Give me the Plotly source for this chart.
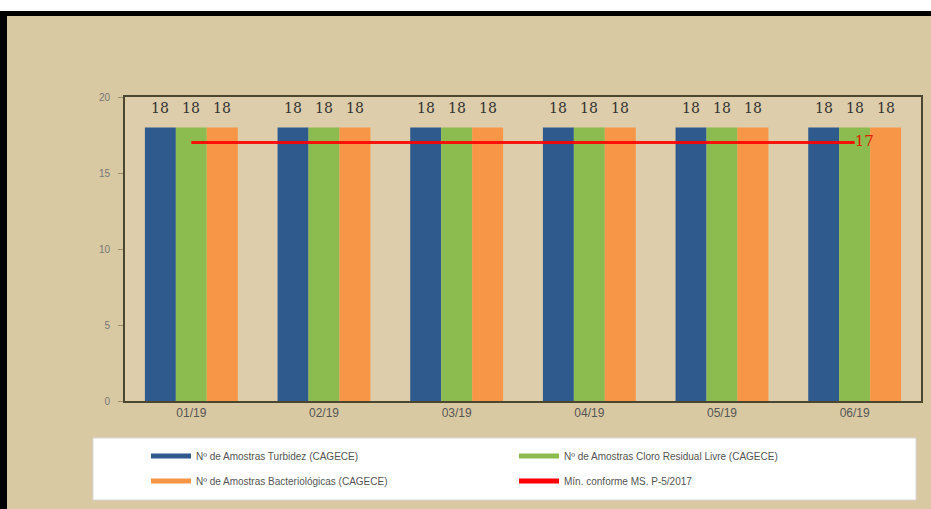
import plotly.graph_objects as go

W, H = 931, 509
categories = ["01/19", "02/19", "03/19", "04/19", "05/19", "06/19"]
turbidez = [18, 18, 18, 18, 18, 18]
cloro = [18, 18, 18, 18, 18, 18]
bacterio = [18, 18, 18, 18, 18, 18]
minimo = [17, 17, 17, 17, 17, 17]

names = ["Nº de Amostras Turbidez (CAGECE)",
         "Nº de Amostras Cloro Residual Livre (CAGECE)",
         "Nº de Amostras Bacteriológicas (CAGECE)",
         "Mín. conforme MS. P-5/2017"]
colors = ["#2f5a8e", "#8cbb4f", "#f79646", "#ff0000"]
legend_ids = ["legend", "legend", "legend2", "legend2"]

L, R, T, B = 125, 921, 97, 401  # plot area in pixels
BARGAP = 0.3

fig = go.Figure()
series = [turbidez, cloro, bacterio]
bar_w = (R - L) / len(categories) * (1 - BARGAP) / len(series)
annotations = []
for i, (vals, c) in enumerate(zip(series, colors[:3])):
    fig.add_bar(x=categories, y=vals, marker_color=c, marker_line_width=0,
                showlegend=False)
    for cat, v in zip(categories, vals):
        annotations.append(dict(x=cat, y=v, xref="x", yref="y", text=str(v),
                                showarrow=False, yanchor="bottom",
                                xshift=(i - 1) * bar_w, yshift=9,
                                font=dict(size=14, color="#333333",
                                          family="DejaVu Serif")))

fig.add_scatter(x=categories, y=minimo, mode="lines+text",
                line=dict(color="rgba(255,0,0,0.9)", width=3),
                text=["", "", "", "", "", str(minimo[-1])],
                textposition="middle right",
                textfont=dict(size=15, color="#e02000", family="DejaVu Serif"),
                cliponaxis=False, showlegend=False)

for n, c, lg in zip(names, colors, legend_ids):
    fig.add_scatter(x=[None], y=[None], mode="lines", name=n, legend=lg,
                    line=dict(color=c, width=5))


def px_x(p):
    return (p - L) / (R - L)


def px_y(p):
    return (B - p) / (B - T)


shapes = [
    dict(type="rect", xref="paper", yref="paper", x0=px_x(0), x1=px_x(W),
         y0=px_y(11), y1=px_y(0), fillcolor="white", line_width=0, layer="below"),
    dict(type="rect", xref="paper", yref="paper", x0=px_x(0), x1=px_x(W),
         y0=px_y(16), y1=px_y(11), fillcolor="black", line_width=0, layer="below"),
    dict(type="rect", xref="paper", yref="paper", x0=px_x(0), x1=px_x(7),
         y0=px_y(H), y1=px_y(11), fillcolor="black", line_width=0, layer="below"),
    dict(type="rect", xref="paper", yref="paper", x0=px_x(93), x1=px_x(916),
         y0=px_y(500), y1=px_y(438), fillcolor="white",
         line=dict(color="#d8d8d8", width=1), layer="below"),
]

leg_common = dict(orientation="h", xanchor="left", yanchor="middle",
                  bgcolor="rgba(0,0,0,0)", entrywidth=313,
                  entrywidthmode="pixels", itemwidth=40,
                  font=dict(size=10, color="#555555"))

fig.update_layout(
    width=W, height=H,
    margin=dict(l=L, r=W - R, t=T, b=H - B, autoexpand=False),
    paper_bgcolor="#d9c9a3",
    plot_bgcolor="#ddcdaa",
    barmode="group", bargap=BARGAP, bargroupgap=0,
    font=dict(family="Liberation Sans, Arial, sans-serif", color="#555555"),
    shapes=shapes,
    annotations=annotations,
    legend=dict(x=px_x(146), y=px_y(456), **leg_common),
    legend2=dict(x=px_x(146), y=px_y(481), **leg_common),
    xaxis=dict(showgrid=False, showline=True, linecolor="#4a4630", linewidth=2,
               mirror=True, ticks="", tickfont=dict(size=12, color="#555555")),
    yaxis=dict(range=[0, 20], tickvals=[0, 5, 10, 15, 20], showgrid=False,
               zeroline=False, showline=True, linecolor="#4a4630", linewidth=2,
               mirror=True, ticks="outside", ticklen=5, tickcolor="#9a9070",
               ticklabelstandoff=6,
               tickfont=dict(size=10, color="#777777")),
)

fig.write_html("out.html", config={"displayModeBar": False},
               post_script="document.body.style.margin='0px';")
